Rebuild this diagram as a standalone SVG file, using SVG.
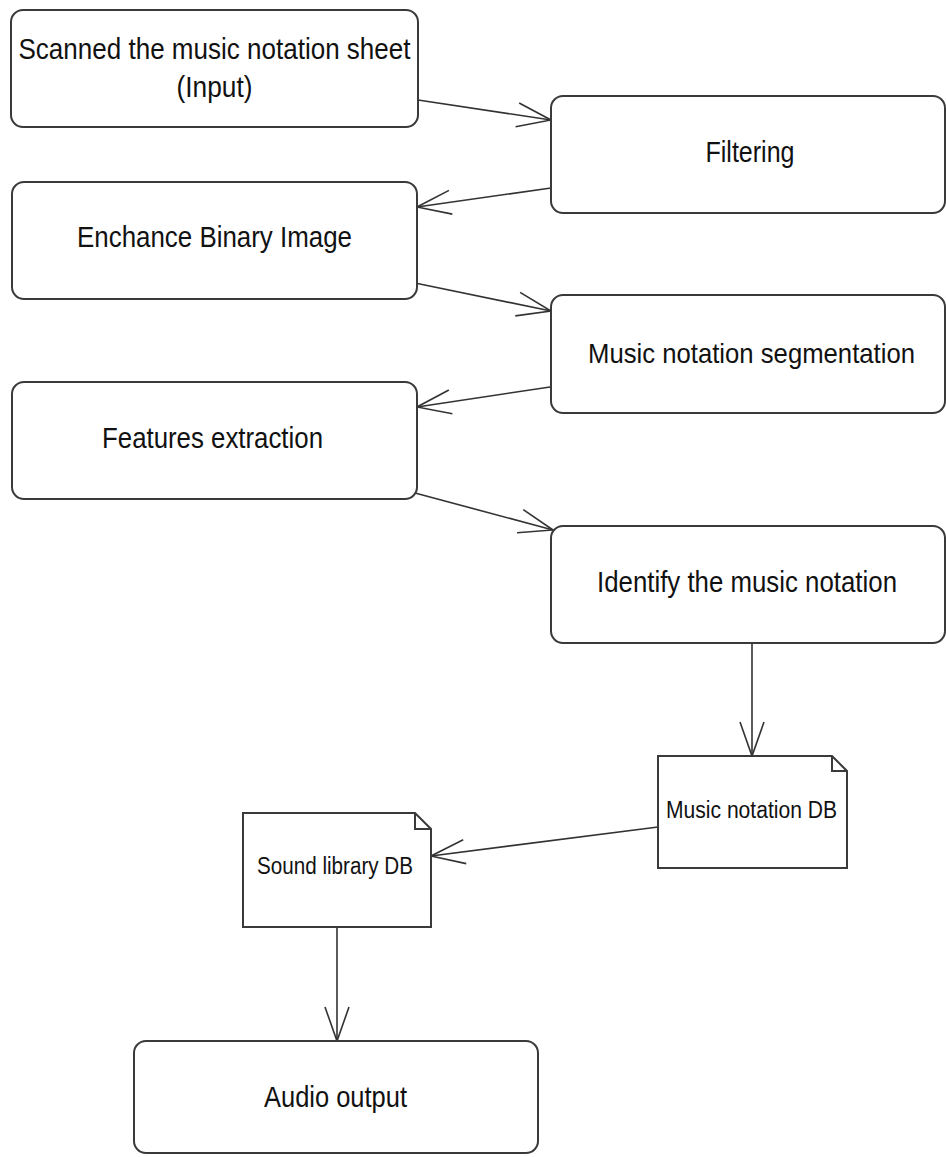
<svg xmlns="http://www.w3.org/2000/svg" width="946" height="1157" viewBox="0 0 946 1157">
<style>
.box{fill:#fff;stroke:#3a3a3a;stroke-width:2}
.fold{fill:none;stroke:#3a3a3a;stroke-width:2}
.conn{fill:none;stroke:#333;stroke-width:1.6}
.t{font-family:"Liberation Sans",Arial,sans-serif;font-size:30px;fill:#111;text-anchor:middle}
.s{font-family:"Liberation Sans",Arial,sans-serif;font-size:23px;fill:#111;text-anchor:middle}
</style>
<defs>
<marker id="open" markerUnits="userSpaceOnUse" markerWidth="40" markerHeight="30" refX="36" refY="15" orient="auto" overflow="visible">
<path d="M2,3 L36,15 L2,27" fill="none" stroke="#333" stroke-width="1.6"/>
</marker>
</defs>
<rect width="946" height="1157" fill="#fff"/>
<g id="connectors">
<line class="conn" x1="418" y1="100" x2="551" y2="120" marker-end="url(#open)"/>
<line class="conn" x1="551" y1="188" x2="417" y2="207" marker-end="url(#open)"/>
<line class="conn" x1="415" y1="283" x2="551" y2="311" marker-end="url(#open)"/>
<line class="conn" x1="550" y1="387" x2="417" y2="407" marker-end="url(#open)"/>
<line class="conn" x1="415" y1="493" x2="553" y2="530" marker-end="url(#open)"/>
<line class="conn" x1="752" y1="643" x2="752" y2="756" marker-end="url(#open)"/>
<line class="conn" x1="658" y1="827" x2="431" y2="856" marker-end="url(#open)"/>
<line class="conn" x1="337" y1="927" x2="337" y2="1041" marker-end="url(#open)"/>
</g>
<g id="scanned">
<rect class="box" x="11" y="10" width="407" height="117" rx="12"/>
<text class="t" x="214.5" y="59" textLength="392" lengthAdjust="spacingAndGlyphs">Scanned the music notation sheet</text>
<text class="t" x="214.5" y="97" textLength="76" lengthAdjust="spacingAndGlyphs">(Input)</text>
</g>
<g id="filtering">
<rect class="box" x="551" y="96" width="394" height="117" rx="12"/>
<text class="t" x="750" y="162" textLength="89" lengthAdjust="spacingAndGlyphs">Filtering</text>
</g>
<g id="enchance">
<rect class="box" x="12" y="182" width="405" height="117" rx="12"/>
<text class="t" x="214.5" y="247" textLength="275" lengthAdjust="spacingAndGlyphs">Enchance Binary Image</text>
</g>
<g id="segmentation">
<rect class="box" x="551" y="295" width="394" height="118" rx="12"/>
<text class="t" x="751.5" y="363" style="font-size:28px" textLength="327" lengthAdjust="spacingAndGlyphs">Music notation segmentation</text>
</g>
<g id="features">
<rect class="box" x="12" y="382" width="405" height="117" rx="12"/>
<text class="t" x="212.5" y="448" textLength="221" lengthAdjust="spacingAndGlyphs">Features extraction</text>
</g>
<g id="identify">
<rect class="box" x="551" y="526" width="394" height="117" rx="12"/>
<text class="t" x="747" y="592" textLength="300" lengthAdjust="spacingAndGlyphs">Identify the music notation</text>
</g>
<g id="musicdb">
<path class="box" d="M658,756 H832 L847,771 V868 H658 Z"/>
<path class="fold" d="M832,756 V771 H847"/>
<text class="s" x="751.5" y="818" textLength="171" lengthAdjust="spacingAndGlyphs">Music notation DB</text>
</g>
<g id="sounddb">
<path class="box" d="M243,813 H415 L431,829 V927 H243 Z"/>
<path class="fold" d="M415,813 V829 H431"/>
<text class="s" x="335" y="874" textLength="156" lengthAdjust="spacingAndGlyphs">Sound library DB</text>
</g>
<g id="audio">
<rect class="box" x="134" y="1041" width="404" height="112" rx="12"/>
<text class="t" x="335.5" y="1107" textLength="143" lengthAdjust="spacingAndGlyphs">Audio output</text>
</g>
</svg>
